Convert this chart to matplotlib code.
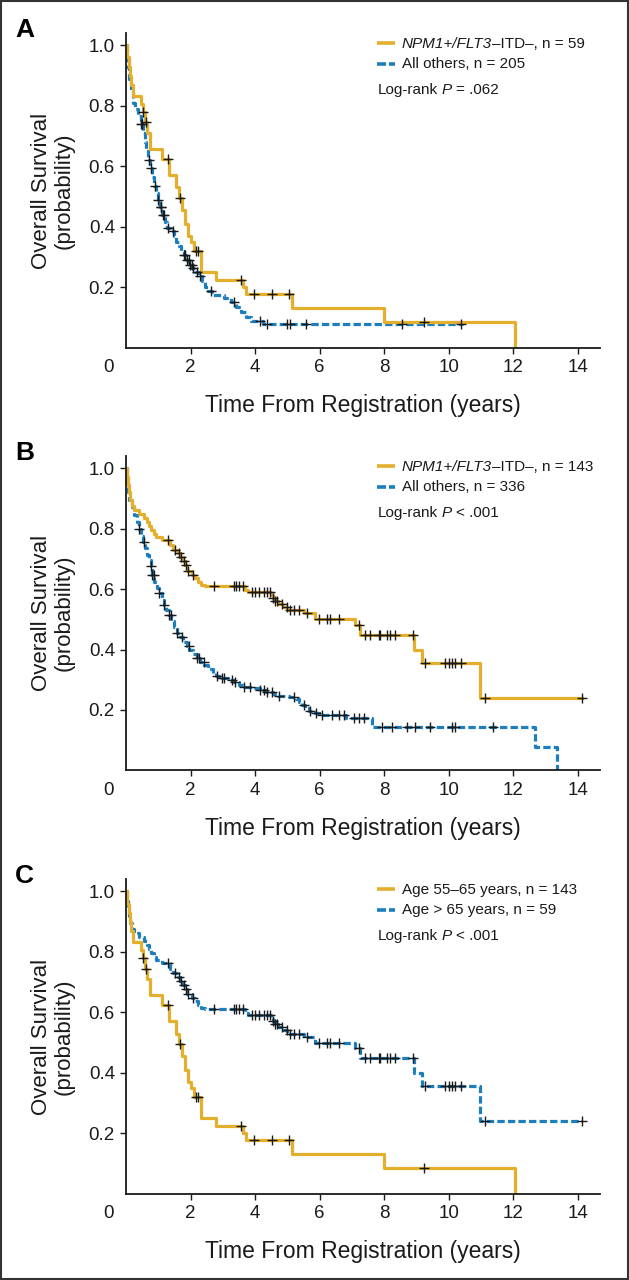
import matplotlib
matplotlib.use("Agg")
import matplotlib.pyplot as plt
from matplotlib.patches import Rectangle
import numpy as np

# Kaplan-Meier curves: (time of drop, survival after drop)
# NPM1+/FLT3-ITD-, n = 59 (panel A) -- same curve is shown for age 55-65 in panel C
a_gold_t = [0, 0.03, 0.08, 0.12, 0.17, 0.22, 0.45, 0.52, 0.58, 0.65, 0.73, 1.10, 1.33,
            1.56, 1.63, 1.74, 1.84, 1.92, 2.00, 2.10, 2.31, 2.80, 3.62, 3.72, 5.14,
            8.00, 12.05]
a_gold_s = [1.0, 0.96, 0.93, 0.90, 0.87, 0.834, 0.807, 0.78, 0.745, 0.71, 0.658, 0.624,
            0.57, 0.53, 0.494, 0.456, 0.41, 0.37, 0.35, 0.32, 0.25, 0.224, 0.20, 0.177,
            0.131, 0.086, 0.0]
a_gold_cens = [0.54, 0.62, 1.30, 1.67, 2.17, 2.22, 3.55, 3.96, 4.53, 5.06, 9.22]

# All others, n = 205 (panel A)
a_blue_t = [0, 0.03, 0.08, 0.14, 0.22, 0.29, 0.37, 0.45, 0.52, 0.58, 0.63, 0.68, 0.75,
            0.80, 0.86, 0.93, 0.98, 1.05, 1.12, 1.20, 1.28, 1.38, 1.48, 1.56, 1.63,
            1.70, 1.79, 1.88, 1.96, 2.05, 2.15, 2.25, 2.35, 2.45, 2.55, 2.65, 3.05,
            3.25, 3.40, 3.55, 3.72, 3.88, 4.25]
a_blue_s = [1.0, 0.93, 0.89, 0.845, 0.81, 0.79, 0.765, 0.74, 0.71, 0.68, 0.65, 0.62,
            0.595, 0.565, 0.535, 0.51, 0.49, 0.465, 0.44, 0.415, 0.395, 0.385, 0.37,
            0.35, 0.335, 0.32, 0.305, 0.29, 0.275, 0.262, 0.25, 0.238, 0.22, 0.202,
            0.188, 0.175, 0.165, 0.15, 0.135, 0.118, 0.103, 0.088, 0.078]
a_blue_end = 10.45
a_blue_cens = [0.46, 0.50, 0.71, 0.77, 0.91, 1.00, 1.07, 1.09, 1.16, 1.19, 1.29, 1.47,
               1.80, 1.84, 1.89, 1.94, 1.99, 2.04, 2.09, 2.19, 2.30, 2.62, 3.34, 4.16,
               4.37, 4.99, 5.09, 5.59, 8.55, 10.36]

# NPM1+/FLT3-ITD-, n = 143 (panel B) -- same curve is shown for age > 65 in panel C
b_gold_t = [0, 0.02, 0.05, 0.09, 0.13, 0.18, 0.24, 0.40, 0.55, 0.66, 0.72, 0.78, 0.86,
            0.92, 1.10, 1.36, 1.45, 1.60, 1.66, 1.76, 1.84, 1.90, 2.05, 2.15, 2.22,
            2.32, 2.45, 3.68, 3.78, 4.48, 4.55, 4.62, 4.70, 4.85, 5.00, 5.50, 5.85,
            7.10, 7.26, 8.93, 9.17, 10.97]
b_gold_s = [1.0, 0.97, 0.945, 0.92, 0.895, 0.875, 0.862, 0.848, 0.835, 0.822, 0.808,
            0.795, 0.782, 0.772, 0.762, 0.745, 0.73, 0.718, 0.705, 0.692, 0.678, 0.66,
            0.648, 0.638, 0.625, 0.615, 0.61, 0.598, 0.59, 0.58, 0.572, 0.56, 0.55,
            0.542, 0.53, 0.52, 0.50, 0.482, 0.448, 0.40, 0.356, 0.239]
b_gold_end = 14.12
b_gold_cens = [1.30, 1.52, 1.64, 1.71, 1.80, 1.86, 1.93, 2.08, 2.72, 3.34, 3.42, 3.51,
               3.62, 3.91, 4.01, 4.11, 4.27, 4.37, 4.47, 4.56, 4.63, 4.68, 4.83, 4.99,
               5.09, 5.20, 5.35, 5.61, 5.97, 6.23, 6.33, 6.59, 7.21, 7.41, 7.57, 7.83,
               7.88, 8.09, 8.19, 8.34, 8.90, 9.27, 9.89, 10.00, 10.10, 10.20, 10.36,
               11.13, 14.12]

# All others, n = 336 (panel B)
b_blue_t = [0, 0.02, 0.05, 0.10, 0.18, 0.26, 0.34, 0.40, 0.46, 0.52, 0.58, 0.64, 0.70,
            0.76, 0.81, 0.88, 0.95, 1.02, 1.10, 1.17, 1.25, 1.33, 1.40, 1.48, 1.58,
            1.68, 1.78, 1.88, 1.96, 2.08, 2.20, 2.30, 2.42, 2.55, 2.68, 2.80, 2.97,
            3.15, 3.34, 3.50, 3.65, 3.90, 4.16, 4.35, 4.55, 4.70, 5.05, 5.25, 5.35,
            5.45, 5.55, 5.66, 5.85, 6.05, 6.80, 7.62, 12.68, 13.35]
b_blue_s = [1.0, 0.95, 0.92, 0.895, 0.87, 0.845, 0.823, 0.80, 0.775, 0.757, 0.735,
            0.712, 0.695, 0.675, 0.648, 0.625, 0.605, 0.586, 0.565, 0.548, 0.53, 0.514,
            0.495, 0.475, 0.455, 0.44, 0.425, 0.41, 0.397, 0.385, 0.371, 0.36, 0.349,
            0.335, 0.322, 0.312, 0.305, 0.298, 0.292, 0.283, 0.277, 0.272, 0.266, 0.26,
            0.252, 0.247, 0.242, 0.235, 0.225, 0.215, 0.205, 0.198, 0.19, 0.185, 0.175,
            0.143, 0.079, 0.0]
b_blue_cens = [0.40, 0.55, 0.76, 0.82, 0.86, 1.02, 1.17, 1.33, 1.38, 1.58, 1.74, 1.94,
               2.20, 2.25, 2.41, 2.82, 2.97, 3.03, 3.29, 3.39, 3.65, 3.85, 4.16, 4.27,
               4.37, 4.52, 4.73, 5.20, 5.50, 5.71, 5.87, 6.07, 6.38, 6.59, 6.74, 7.05,
               7.21, 7.36, 7.93, 8.24, 8.71, 8.96, 9.43, 10.10, 10.18, 11.38]

panel_letters = ["A", "B", "C"]
# legend rows as (text, font style, gap in points before the piece)
legend_gold = [[("NPM1+/FLT3", "italic", 0), ("–ITD–, n = 59", "normal", 0)],
               [("NPM1+/FLT3", "italic", 0), ("–ITD–, n = 143", "normal", 0)],
               [("Age 55–65 years, n = 143", "normal", 0)]]
legend_blue = [[("All others, n = 205", "normal", 0)],
               [("All others, n = 336", "normal", 0)],
               [("Age > 65 years, n = 59", "normal", 0)]]
logrank = [[("Log-rank", "normal", 0), ("P", "italic", 2.6), ("= .062", "normal", 3)],
           [("Log-rank", "normal", 0), ("P", "italic", 2.6), ("< .001", "normal", 3)],
           [("Log-rank", "normal", 0), ("P", "italic", 2.6), ("< .001", "normal", 3)]]

x_ticks = [2, 4, 6, 8, 10, 12, 14]
y_ticks = [0.2, 0.4, 0.6, 0.8, 1.0]

GOLD = "#E4AF2C"
BLUE = "#1C7EBD"
INK = "#1a1a1a"
DASH = (0, (2.3, 1.0))

plt.rcParams["font.family"] = ["Liberation Sans", "DejaVu Sans"]


def km_line(ax, t, s, end, color, dashed):
    # extend last level to the end of follow-up
    tt = list(t) + ([end] if end is not None else [])
    ss = list(s) + ([s[-1]] if end is not None else [])
    ax.step(tt, ss, where="post", color=color, lw=2.3,
            linestyle=DASH if dashed else "-", zorder=2)


def censor(ax, t, s, ct):
    t = np.array(t)
    s = np.array(s)
    idx = np.searchsorted(t, ct, side="right") - 1
    ax.plot(ct, s[idx], linestyle="none", marker="+", color=INK,
            markersize=7, markeredgewidth=1.0, zorder=3)


def rich(ax, x, y, parts, size=11):
    t = ax.text(x, y, parts[0][0], style=parts[0][1], transform=ax.transAxes,
                va="baseline", ha="left", fontsize=size, color=INK)
    for txt, st, gap in parts[1:]:
        t = ax.annotate(txt, xy=(1, 0), xycoords=t, xytext=(gap, 0),
                        textcoords="offset points", va="bottom", ha="left",
                        style=st, fontsize=size, color=INK)


fig = plt.figure(figsize=(6.29, 12.8), dpi=100)
bottoms = [0.7284, 0.3981, 0.0674]

curves = [
    ((a_gold_t, a_gold_s, None, a_gold_cens), (a_blue_t, a_blue_s, a_blue_end, a_blue_cens)),
    ((b_gold_t, b_gold_s, b_gold_end, b_gold_cens), (b_blue_t, b_blue_s, None, b_blue_cens)),
    ((a_gold_t, a_gold_s, None, a_gold_cens), (b_gold_t, b_gold_s, b_gold_end, b_gold_cens)),
]

for i in range(3):
    ax = fig.add_axes([0.2003, bottoms[i], 0.7536, 0.2456])
    g, b = curves[i]
    km_line(ax, b[0], b[1], b[2], BLUE, True)
    km_line(ax, g[0], g[1], g[2], GOLD, False)
    censor(ax, b[0], b[1], b[3])
    censor(ax, g[0], g[1], g[3])

    ax.set_xlim(0, 14.68)
    ax.set_ylim(0, 1.04)
    ax.set_xticks(x_ticks)
    ax.set_yticks(y_ticks)
    ax.set_yticklabels([f"{v:.1f}" for v in y_ticks])
    for sp in ["top", "right"]:
        ax.spines[sp].set_visible(False)
    for sp in ["left", "bottom"]:
        ax.spines[sp].set_linewidth(1.3)
        ax.spines[sp].set_color(INK)
    ax.tick_params(direction="out", length=4, width=1.0, color=INK,
                   labelsize=13.5, pad=4, labelcolor=INK)
    ax.text(-0.55, -0.065, "0", ha="center", va="center", fontsize=13.5, color=INK)

    ax.set_xlabel("Time From Registration (years)", fontsize=16.5, labelpad=13,
                  color=INK)
    ax.set_ylabel("Overall Survival\n(probability)", fontsize=16, labelpad=10,
                  linespacing=1.1, color=INK)

    # legend keys and labels
    ax.plot([0.5295, 0.5675], [0.969, 0.969], transform=ax.transAxes, color=GOLD,
            lw=2.6, solid_capstyle="butt", clip_on=False)
    ax.plot([0.5295, 0.5675], [0.901, 0.901], transform=ax.transAxes, color=BLUE,
            lw=2.6, linestyle=(0, (2.5, 0.8)), clip_on=False)
    rich(ax, 0.582, 0.953, legend_gold[i])
    rich(ax, 0.582, 0.889, legend_blue[i])
    rich(ax, 0.532, 0.807, logrank[i])

    fig.text(15 / 629, bottoms[i] + 0.2456 + (33.3 - 37) / 1280, panel_letters[i],
             fontsize=19, fontweight="bold", va="baseline", ha="left")

fig.add_artist(Rectangle((0.0015, 0.001), 0.997, 0.998, transform=fig.transFigure,
                         fill=False, lw=1.5, ec="#333333"))

fig.savefig("out.png", dpi=100)
